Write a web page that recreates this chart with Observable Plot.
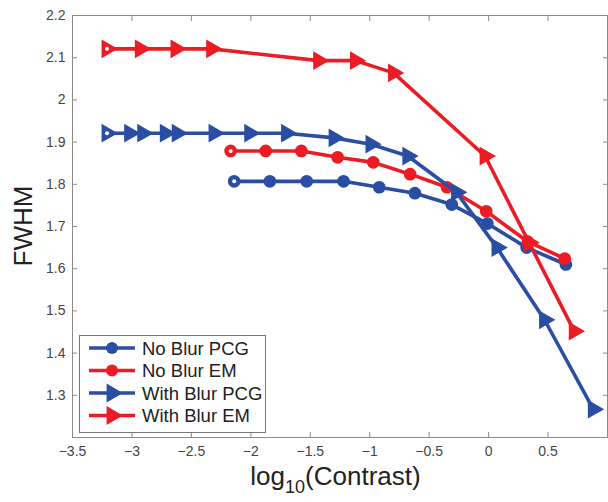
<!DOCTYPE html>
<html><head><meta charset="utf-8">
<script src="https://cdn.jsdelivr.net/npm/d3@7"></script>
<script src="https://cdn.jsdelivr.net/npm/@observablehq/plot@0.6"></script>
<style>
body{margin:0;background:#fff;font-family:"Liberation Sans",Arial,sans-serif}
#wrap{position:relative;width:608px;height:502px;overflow:hidden}
#ylab{position:absolute;left:0;top:0;font-size:26px;color:#222;transform-origin:0 0}
#xlab{position:absolute;font-size:26px;color:#222;white-space:nowrap}
#xlab sub{font-size:18px;vertical-align:-8px}
#legend{position:absolute;left:0;top:0}
</style>
</head><body><div id="wrap"></div>
<script>
// ---- data ----
const seriesNames = ["No Blur PCG", "No Blur EM", "With Blur PCG", "With Blur EM"];
const seriesColors = ["#2a4ea3", "#ec1c24", "#2a4ea3", "#ec1c24"];
const seriesSymbols = ["circle", "circle", "triangle", "triangle"];

const noBlurPCG_x = [-2.14, -1.84, -1.53, -1.22, -0.92, -0.62, -0.31, -0.01, 0.32, 0.65];
const noBlurPCG_y = [1.807, 1.807, 1.807, 1.807, 1.793, 1.779, 1.752, 1.707, 1.650, 1.610];

const noBlurEM_x = [-2.17, -1.875, -1.575, -1.27, -0.97, -0.66, -0.35, -0.02, 0.33, 0.64];
const noBlurEM_y = [1.879, 1.879, 1.879, 1.864, 1.852, 1.824, 1.793, 1.736, 1.664, 1.624];

const withBlurPCG_x = [-3.21, -3.02, -2.91, -2.72, -2.62, -2.31, -2.01, -1.70, -1.30, -0.99, -0.68, -0.27, 0.07, 0.47, 0.88];
const withBlurPCG_y = [1.921, 1.921, 1.921, 1.921, 1.921, 1.921, 1.921, 1.921, 1.910, 1.895, 1.867, 1.781, 1.650, 1.479, 1.267];

const withBlurEM_x = [-3.21, -2.93, -2.63, -2.33, -1.43, -1.12, -0.80, -0.03, 0.34, 0.72];
const withBlurEM_y = [2.121, 2.121, 2.121, 2.121, 2.093, 2.093, 2.064, 1.867, 1.662, 1.452];

const xTicks = [-3.5, -3, -2.5, -2, -1.5, -1, -0.5, 0, 0.5];
const yTicks = [1.3, 1.4, 1.5, 1.6, 1.7, 1.8, 1.9, 2, 2.1, 2.2];

// ---- build table ----
const seriesX = [noBlurPCG_x, noBlurEM_x, withBlurPCG_x, withBlurEM_x];
const seriesY = [noBlurPCG_y, noBlurEM_y, withBlurPCG_y, withBlurEM_y];
const rows = [];
seriesNames.forEach((name, s) => {
  seriesX[s].forEach((x, i) => rows.push({series: name, s, x, y: seriesY[s][i], first: i === 0}));
});

const fmt = d => String(+(+d).toFixed(1)).replace("-", "\u2212");
const W = 608, H = 502, mL = 72, mR = 1, mT = 15, mB = 65;

const marks = [
  Plot.frame({stroke: "#8a8a8a"}),
  Plot.axisX({anchor: "bottom", ticks: xTicks, tickSize: -5, tickPadding: 14, tickFormat: fmt, label: null, stroke: "#8a8a8a", fill: "#444"}),
  Plot.axisX({anchor: "top", ticks: xTicks, tickSize: -5, fill: "none", label: null, stroke: "#8a8a8a"}),
  Plot.axisY({anchor: "left", ticks: yTicks, tickSize: -5, tickPadding: 12, tickFormat: fmt, label: null, stroke: "#8a8a8a", fill: "#444"}),
  Plot.axisY({anchor: "right", ticks: yTicks, tickSize: -5, fill: "none", label: null, stroke: "#8a8a8a"})
];
seriesNames.forEach((name, s) => {
  const d = rows.filter(r => r.s === s);
  const c = seriesColors[s];
  const tri = seriesSymbols[s] === "triangle";
  marks.push(Plot.line(d, {x: "x", y: "y", stroke: c, strokeWidth: 3.6, strokeLinejoin: "round"}));
  marks.push(Plot.dot(d, {x: "x", y: "y", symbol: seriesSymbols[s], r: tri ? 6 : 5.6, rotate: tri ? 90 : 0,
    fill: c, stroke: c, strokeWidth: 1.5}));
  marks.push(Plot.dot(d.filter(r => r.first), {x: "x", y: "y", symbol: "circle", r: 2, fill: "white"}));
});

const chart = Plot.plot({
  width: W, height: H, marginLeft: mL, marginRight: mR, marginTop: mT, marginBottom: mB,
  style: {fontFamily: '"Liberation Sans", Arial, sans-serif', fontSize: "14px", color: "#444", background: "white", overflow: "visible"},
  x: {domain: [-3.5, 1]},
  y: {domain: [1.2, 2.2]},
  marks
});
const wrap = document.getElementById("wrap");
wrap.appendChild(chart);

// axis titles
const yl = document.createElement("div");
yl.id = "ylab"; yl.textContent = "FWHM";
wrap.appendChild(yl);
const ylw = yl.getBoundingClientRect().width;
const cy = (mT + (H - mB)) / 2;
yl.style.transform = `translate(8px, ${cy + ylw / 2}px) rotate(-90deg)`;

const xl = document.createElement("div");
xl.id = "xlab"; xl.innerHTML = "log<sub>10</sub>(Contrast)";
wrap.appendChild(xl);
const xlw = xl.getBoundingClientRect().width;
xl.style.left = (mL + (W - mR - mL) / 2 - xlw / 2 - 4) + "px";
xl.style.top = "461px";

// legend
const lg = d3.select(wrap).append("svg").attr("id", "legend").attr("width", W).attr("height", H);
lg.append("rect").attr("x", 79.5).attr("y", 335.5).attr("width", 186).attr("height", 97)
  .attr("fill", "white").attr("stroke", "#777").attr("stroke-width", 1);
seriesNames.forEach((name, s) => {
  const yy = 348 + s * 22.5;
  const c = seriesColors[s];
  const g = lg.append("g");
  g.append("line").attr("x1", 89).attr("x2", 135).attr("y1", yy).attr("y2", yy).attr("stroke", c).attr("stroke-width", 3.6);
  if (seriesSymbols[s] === "circle") {
    g.append("circle").attr("cx", 112).attr("cy", yy).attr("r", 6).attr("fill", c);
  } else {
    g.append("path").attr("transform", `translate(112,${yy}) rotate(90)`)
      .attr("d", d3.symbol(d3.symbolTriangle, Math.PI * 6 * 6)()).attr("fill", c).attr("stroke", c).attr("stroke-width", 1.5);
  }
  g.append("text").attr("x", 142).attr("y", yy + 6.5).attr("font-size", 18.5)
    .attr("font-family", '"Liberation Sans", Arial, sans-serif').attr("fill", "#222").text(name);
});
</script>
</body></html>
